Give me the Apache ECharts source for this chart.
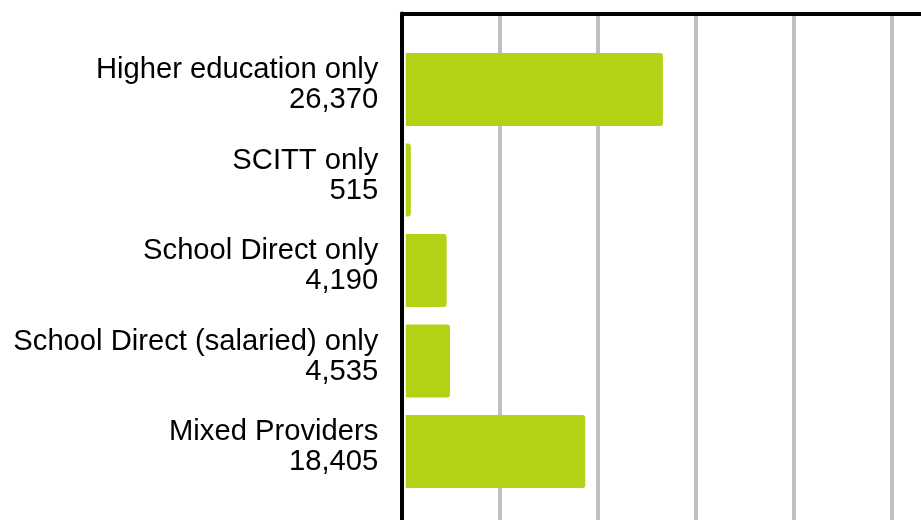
<!DOCTYPE html>
<html>
<head>
<meta charset="utf-8">
<script src="https://cdn.jsdelivr.net/npm/echarts@6/dist/echarts.min.js"></script>
<style>
html,body{margin:0;padding:0;background:#fff;}
#chart{width:921px;height:520px;}
</style>
</head>
<body>
<div id="chart"></div>
<script>
const categories = ['Higher education only', 'SCITT only', 'School Direct only', 'School Direct (salaried) only', 'Mixed Providers'];
const values = [26370, 515, 4190, 4535, 18405];
const axisMax = 60000;
const axisStep = 10000;

const chart = echarts.init(document.getElementById('chart'), null, {renderer: 'canvas'});
const labelFor = {};
categories.forEach((c, i) => { labelFor[c] = c + '\n' + values[i].toLocaleString('en-US'); });

chart.setOption({
  animation: false,
  backgroundColor: '#ffffff',
  grid: [
    {left: 402, top: 13.5, width: 588, height: 540, containLabel: false, outerBoundsMode: 'none'},
    {left: 405.8, top: 44.25, width: 585, height: 452.5, containLabel: false, outerBoundsMode: 'none'},
    {left: 405.8, top: 40, width: 585, height: 452.5, containLabel: false, outerBoundsMode: 'none'}
  ],
  xAxis: [
    {
      gridIndex: 0, type: 'value', position: 'top', min: 0, max: axisMax, interval: axisStep,
      axisLine: {show: true, onZero: false, lineStyle: {color: '#000', width: 4}},
      axisTick: {show: false}, axisLabel: {show: false},
      splitLine: {show: true, lineStyle: {color: '#c0c0c0', width: 4}}
    },
    {
      gridIndex: 1, type: 'value', min: 0, max: axisMax, interval: axisStep,
      axisLine: {show: false}, axisTick: {show: false}, axisLabel: {show: false}, splitLine: {show: false}
    },
    {
      gridIndex: 2, type: 'value', min: 0, max: axisMax, interval: axisStep, show: false
    }
  ],
  yAxis: [
    {
      gridIndex: 0, type: 'value', min: 0, max: 1, position: 'left',
      axisLine: {show: true, onZero: false, lineStyle: {color: '#000', width: 4}},
      axisTick: {show: false}, axisLabel: {show: false}, splitLine: {show: false}
    },
    {
      gridIndex: 1, type: 'category', data: categories, inverse: true,
      axisLine: {show: false}, axisTick: {show: false}, splitLine: {show: false}, axisLabel: {show: false}
    },
    {
      gridIndex: 2, type: 'category', data: categories, inverse: true,
      axisLine: {show: false}, axisTick: {show: false}, splitLine: {show: false},
      axisLabel: {
        show: true, margin: 27.5, align: 'right', verticalAlign: 'middle',
        fontFamily: 'Liberation Sans', fontSize: 29.2, lineHeight: 30, color: '#000',
        formatter: (v) => labelFor[v]
      }
    }
  ],
  series: [{
    type: 'bar', xAxisIndex: 1, yAxisIndex: 1,
    data: values, barWidth: 73,
    itemStyle: {color: '#b4d116', borderRadius: [0, 3, 3, 0]},
    z: 3
  }]
});
</script>
</body>
</html>
